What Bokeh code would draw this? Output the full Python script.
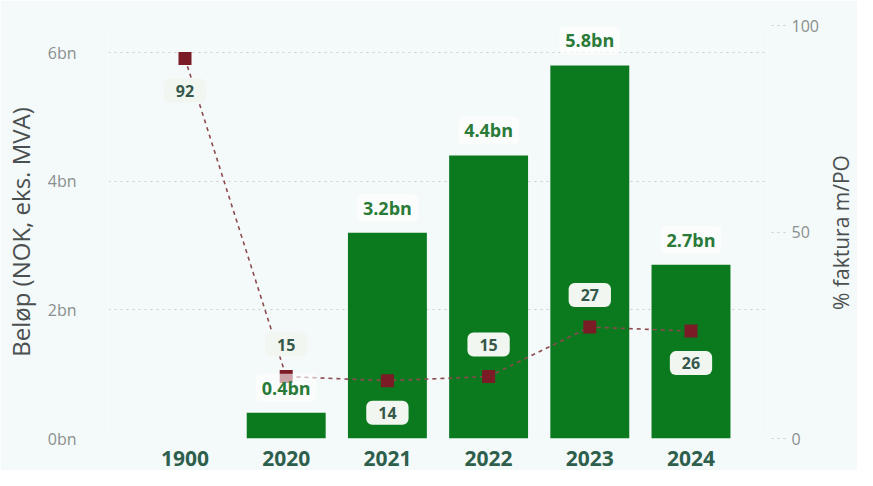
import math
from bokeh.plotting import figure
from bokeh.models import (ColumnDataSource, Range1d, LinearAxis, FixedTicker, FactorRange, Label)
from bokeh.core.properties import value
from bokeh.embed import file_html
from bokeh.resources import INLINE

# ---- data ----
years = ["1900", "2020", "2021", "2022", "2023", "2024"]
amount_bn = [0.0, 0.4, 3.2, 4.4, 5.8, 2.7]
amount_labels = ["", "0.4bn", "3.2bn", "4.4bn", "5.8bn", "2.7bn"]
pct_po = [92, 15, 14, 15, 27, 26]
pct_labels = ["92", "15", "14", "15", "27", "26"]
left_ticks = [0, 2, 4, 6]
left_tick_labels = ["0bn", "2bn", "4bn", "6bn"]
right_ticks = [0, 50, 100]
right_tick_labels = ["0", "50", "100"]
left_title = "Beløp (NOK, eks. MVA)"
right_title = "% faktura m/PO"

# label placement (style): +1 above point, -1 below point
pct_label_side = [-1, 1, -1, 1, 1, -1]

BG = "#f4f9fa"
FONT = "Open Sans"

p = figure(width=857, height=470, output_backend="svg", toolbar_location=None,
           x_range=FactorRange(factors=years, range_padding=0.256, range_padding_units="absolute"),
           y_range=Range1d(0, 6.42), background_fill_color=BG, border_fill_color=BG,
           min_border_left=108, min_border_right=90, min_border_top=25, min_border_bottom=32)
p.outline_line_color = None
p.extra_y_ranges = {"pct": Range1d(0, 100)}

# grid
p.xgrid.grid_line_color = None
p.ygrid.ticker = FixedTicker(ticks=left_ticks)
p.ygrid.grid_line_color = "#c9cfcf"
p.ygrid.grid_line_dash = "2 4"
p.ygrid.grid_line_width = 1

# left axis
ya = p.yaxis[0]
ya.ticker = FixedTicker(ticks=left_ticks)
ya.major_label_overrides = {t: l for t, l in zip(left_ticks, left_tick_labels)}
ya.axis_line_color = None
ya.major_tick_line_color = None
ya.minor_tick_line_color = None
ya.major_label_standoff = 26
ya.major_label_text_font = FONT
ya.major_label_text_font_size = "16px"
ya.major_label_text_color = "#8a8f8f"
ya.axis_label = left_title
ya.axis_label_text_font = FONT
ya.axis_label_text_font_size = "24px"
ya.axis_label_text_font_style = "normal"
ya.axis_label_text_color = "#4a4f4f"
ya.axis_label_standoff = 8

# right axis
ra = LinearAxis(y_range_name="pct", ticker=FixedTicker(ticks=right_ticks))
ra.major_label_overrides = {t: l for t, l in zip(right_ticks, right_tick_labels)}
ra.axis_line_color = None
ra.major_tick_line_color = "#c9cfcf"
ra.major_tick_line_dash = "2 4"
ra.major_tick_out = 18
ra.major_tick_in = 0
ra.minor_tick_line_color = None
ra.major_label_standoff = 6
ra.major_label_text_font = FONT
ra.major_label_text_font_size = "16px"
ra.major_label_text_color = "#8a8f8f"
p.add_layout(ra, "right")

# right axis title, reading bottom-to-top like the left one
p.add_layout(Label(x=19, y=206, x_units="screen", y_units="screen", text=right_title,
                   angle=math.pi / 2, text_align="center", text_baseline="middle",
                   text_font=FONT, text_font_size="21px", text_color="#4a4f4f"), "right")

# bottom axis
xa = p.xaxis[0]
xa.axis_line_color = None
xa.major_tick_line_color = None
xa.minor_tick_line_color = None
xa.major_label_standoff = 6
xa.major_label_text_font = FONT
xa.major_label_text_font_size = "21px"
xa.major_label_text_font_style = "bold"
xa.major_label_text_color = "#2d5f4c"

# bars
bar_src = ColumnDataSource(dict(x=years, top=amount_bn))
p.vbar(x="x", top="top", width=0.78, source=bar_src, fill_color="#0b7a1f", line_color=None)

# line + markers
line_src = ColumnDataSource(dict(x=years, y=pct_po, lab=pct_labels,
                                 off=[-32 * s for s in pct_label_side]))
p.line(x="x", y="y", source=line_src, y_range_name="pct", line_color="#8c4a4e",
       line_dash="4 4", line_width=1.6)
p.scatter(x="x", y="y", source=line_src, y_range_name="pct", marker="square", size=13,
          fill_color="#7a1b26", line_color=None)

# line labels
p.text(x="x", y="y", text="lab", source=line_src, y_range_name="pct", y_offset="off",
       text_align="center", text_baseline="middle", text_font=value(FONT),
       text_font_size="16px", text_font_style="bold", text_color="#35584a",
       background_fill_color="#f1f6f0", background_fill_alpha=1.0,
       border_line_color=None, padding=(12, 6), border_radius=6)

# bar labels
idx = [i for i, v in enumerate(amount_bn) if v > 0]
bl_src = ColumnDataSource(dict(x=[years[i] for i in idx], y=[amount_bn[i] for i in idx],
                               lab=[amount_labels[i] for i in idx]))
p.text(x="x", y="y", text="lab", source=bl_src, y_offset=-25,
       text_align="center", text_baseline="middle", text_font=value(FONT),
       text_font_size="18px", text_font_style="bold", text_color="#2a7a38",
       background_fill_color="#ffffff", background_fill_alpha=0.6,
       border_line_color=None, padding=(6, 2), border_radius=5)

open("out.html", "w").write(file_html(p, INLINE))
